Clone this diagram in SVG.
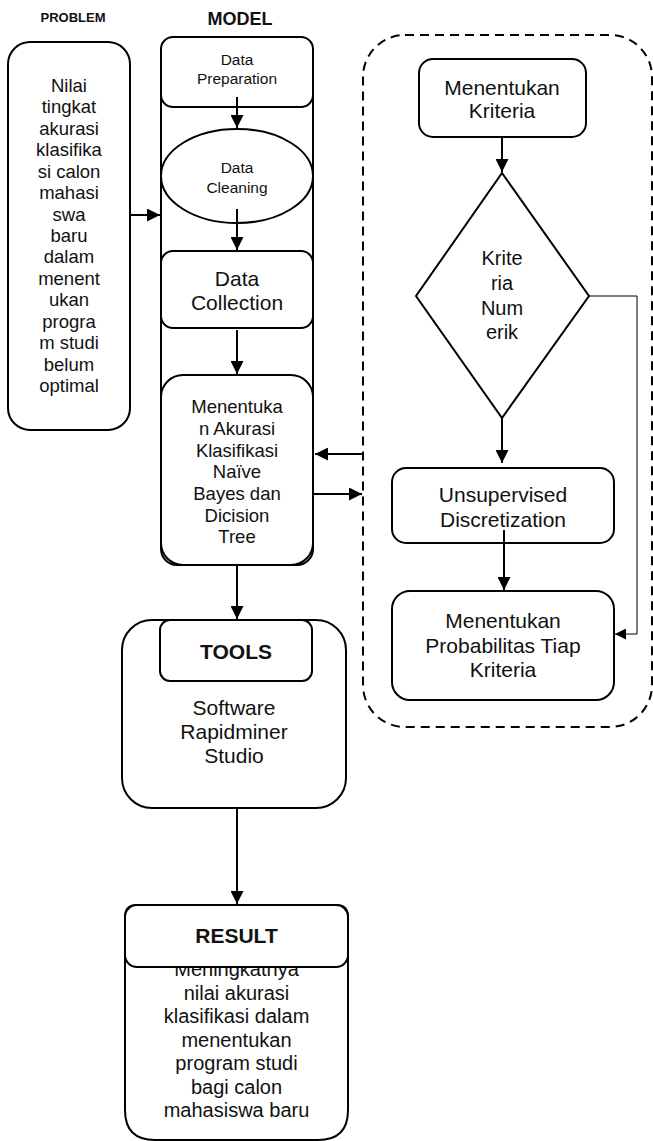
<svg xmlns="http://www.w3.org/2000/svg" width="653" height="1141" viewBox="0 0 653 1141">
  <style>
    .box { fill: #fff; stroke: #000; stroke-width: 2; }
    .open { fill: none; stroke: #000; stroke-width: 2; }
    .dash { fill: none; stroke: #000; stroke-width: 2; stroke-dasharray: 9 6; }
    .line { fill: none; stroke: #000; stroke-width: 2; }
    .thin { fill: none; stroke: #000; stroke-width: 1; }
    text { font-family: "Liberation Sans", Arial, sans-serif; fill: #111; text-anchor: middle; }
    .bold { font-weight: bold; }
  </style>
  <defs>
    <marker id="arrow" viewBox="0 0 10 10" refX="10" refY="5" markerWidth="6.5" markerHeight="6.5" markerUnits="strokeWidth" orient="auto">
      <path d="M0,0 L10,5 L0,10 Z" fill="#000"/>
    </marker>
    <marker id="arrowThin" viewBox="0 0 10 10" refX="10" refY="5" markerWidth="12" markerHeight="11" markerUnits="strokeWidth" orient="auto">
      <path d="M0,0 L10,5 L0,10 Z" fill="#000"/>
    </marker>
  </defs>

  <!-- column headings -->
  <g id="heading-problem"><text class="bold" x="73" y="22" font-size="13">PROBLEM</text></g>
  <g id="heading-model"><text class="bold" x="240" y="25" font-size="18">MODEL</text></g>

  <!-- problem statement -->
  <g id="problem">
    <rect class="box" x="8" y="42" width="122" height="388" rx="22"/>
    <g font-size="18.5">
      <text x="69" y="92">Nilai</text>
      <text x="69" y="113.4">tingkat</text>
      <text x="69" y="134.9">akurasi</text>
      <text x="69" y="156.3">klasifika</text>
      <text x="69" y="177.7">si calon</text>
      <text x="69" y="199.1">mahasi</text>
      <text x="69" y="220.6">swa</text>
      <text x="69" y="242">baru</text>
      <text x="69" y="263.4">dalam</text>
      <text x="69" y="284.9">menent</text>
      <text x="69" y="306.3">ukan</text>
      <text x="69" y="327.7">progra</text>
      <text x="69" y="349.1">m studi</text>
      <text x="69" y="370.6">belum</text>
      <text x="69" y="392">optimal</text>
    </g>
  </g>

  <!-- model column frame -->
  <g id="model-column">
    <rect class="open" x="161" y="37" width="152" height="528" rx="16"/>
  </g>

  <g id="data-preparation">
    <rect class="box" x="161" y="37" width="152" height="70" rx="12"/>
    <text x="237" y="65" font-size="15.5">Data</text>
    <text x="237" y="84" font-size="15.5">Preparation</text>
  </g>

  <g id="data-cleaning">
    <ellipse class="box" cx="237" cy="176" rx="76" ry="47"/>
    <text x="237" y="173" font-size="15.5">Data</text>
    <text x="237" y="193" font-size="15.5">Cleaning</text>
  </g>

  <g id="data-collection">
    <rect class="box" x="161" y="251" width="152" height="77" rx="12"/>
    <text x="237" y="286" font-size="21">Data</text>
    <text x="237" y="310" font-size="21">Collection</text>
  </g>

  <g id="akurasi">
    <rect class="box" x="161" y="375" width="152" height="190" rx="22"/>
    <g font-size="18.5">
      <text x="237" y="413">Menentuka</text>
      <text x="237" y="435">n Akurasi</text>
      <text x="237" y="457">Klasifikasi</text>
      <text x="237" y="478">Naïve</text>
      <text x="237" y="500">Bayes dan</text>
      <text x="237" y="522">Dicision</text>
      <text x="237" y="543">Tree</text>
    </g>
  </g>

  <!-- dashed process group -->
  <g id="criteria-group">
    <rect class="dash" x="363" y="35" width="289" height="692" rx="42"/>
  </g>

  <g id="menentukan-kriteria">
    <rect class="box" x="419" y="59" width="167" height="78" rx="14"/>
    <text x="502" y="95" font-size="21">Menentukan</text>
    <text x="502" y="118" font-size="21">Kriteria</text>
  </g>

  <g id="kriteria-numerik">
    <polygon class="box" points="502,173 589,296 502,418 416,296"/>
    <text x="502" y="265" font-size="20">Krite</text>
    <text x="502" y="290" font-size="20">ria</text>
    <text x="502" y="315" font-size="20">Num</text>
    <text x="502" y="339" font-size="20">erik</text>
  </g>

  <g id="unsupervised-discretization">
    <rect class="box" x="392" y="468" width="222" height="75" rx="14"/>
    <text x="503" y="502" font-size="21">Unsupervised</text>
    <text x="503" y="527" font-size="21">Discretization</text>
  </g>

  <g id="probabilitas">
    <rect class="box" x="392" y="591" width="222" height="109" rx="18"/>
    <text x="503" y="628" font-size="21">Menentukan</text>
    <text x="503" y="653" font-size="21">Probabilitas Tiap</text>
    <text x="503" y="677" font-size="21">Kriteria</text>
  </g>

  <g id="tools">
    <rect class="box" x="122" y="620" width="224" height="188" rx="30"/>
    <rect class="box" x="160" y="620" width="152" height="61" rx="10"/>
    <text class="bold" x="236" y="659" font-size="21">TOOLS</text>
    <text x="234" y="715" font-size="21">Software</text>
    <text x="234" y="739" font-size="21">Rapidminer</text>
    <text x="234" y="763" font-size="21">Studio</text>
  </g>

  <g id="result">
    <path class="box" d="M137,905 H336 Q348,905 348,917 V1110 Q348,1140 318,1140 H155 Q125,1140 125,1110 V917 Q125,905 137,905 Z"/>
    <g font-size="20">
      <text x="236.5" y="976">Meningkatnya</text>
      <text x="236.5" y="1000">nilai akurasi</text>
      <text x="236.5" y="1023">klasifikasi dalam</text>
      <text x="236.5" y="1047">menentukan</text>
      <text x="236.5" y="1070">program studi</text>
      <text x="236.5" y="1094">bagi calon</text>
      <text x="236.5" y="1117">mahasiswa baru</text>
    </g>
    <rect class="box" x="125" y="905" width="223" height="62" rx="12"/>
    <text class="bold" x="236.5" y="943" font-size="21">RESULT</text>
  </g>

  <!-- connectors -->
  <g id="connectors">
    <line class="line" x1="130" y1="215" x2="160" y2="215" marker-end="url(#arrow)"/>
    <line class="line" x1="237" y1="97" x2="237" y2="128" marker-end="url(#arrow)"/>
    <line class="line" x1="237" y1="209" x2="237" y2="250" marker-end="url(#arrow)"/>
    <line class="line" x1="237" y1="330" x2="237" y2="374" marker-end="url(#arrow)"/>
    <line class="line" x1="362" y1="454" x2="315" y2="454" marker-end="url(#arrow)"/>
    <line class="line" x1="314" y1="494" x2="362" y2="494" marker-end="url(#arrow)"/>
    <line class="line" x1="502" y1="137" x2="502" y2="172" marker-end="url(#arrow)"/>
    <line class="line" x1="502" y1="418" x2="502" y2="463" marker-end="url(#arrow)"/>
    <line class="line" x1="504" y1="530" x2="504" y2="590" marker-end="url(#arrow)"/>
    <polyline class="thin" points="589,296 637,296 637,634 615,634" marker-end="url(#arrowThin)"/>
    <line class="line" x1="237" y1="565" x2="237" y2="619" marker-end="url(#arrow)"/>
    <line class="line" x1="237" y1="808" x2="237" y2="904" marker-end="url(#arrow)"/>
  </g>
</svg>
